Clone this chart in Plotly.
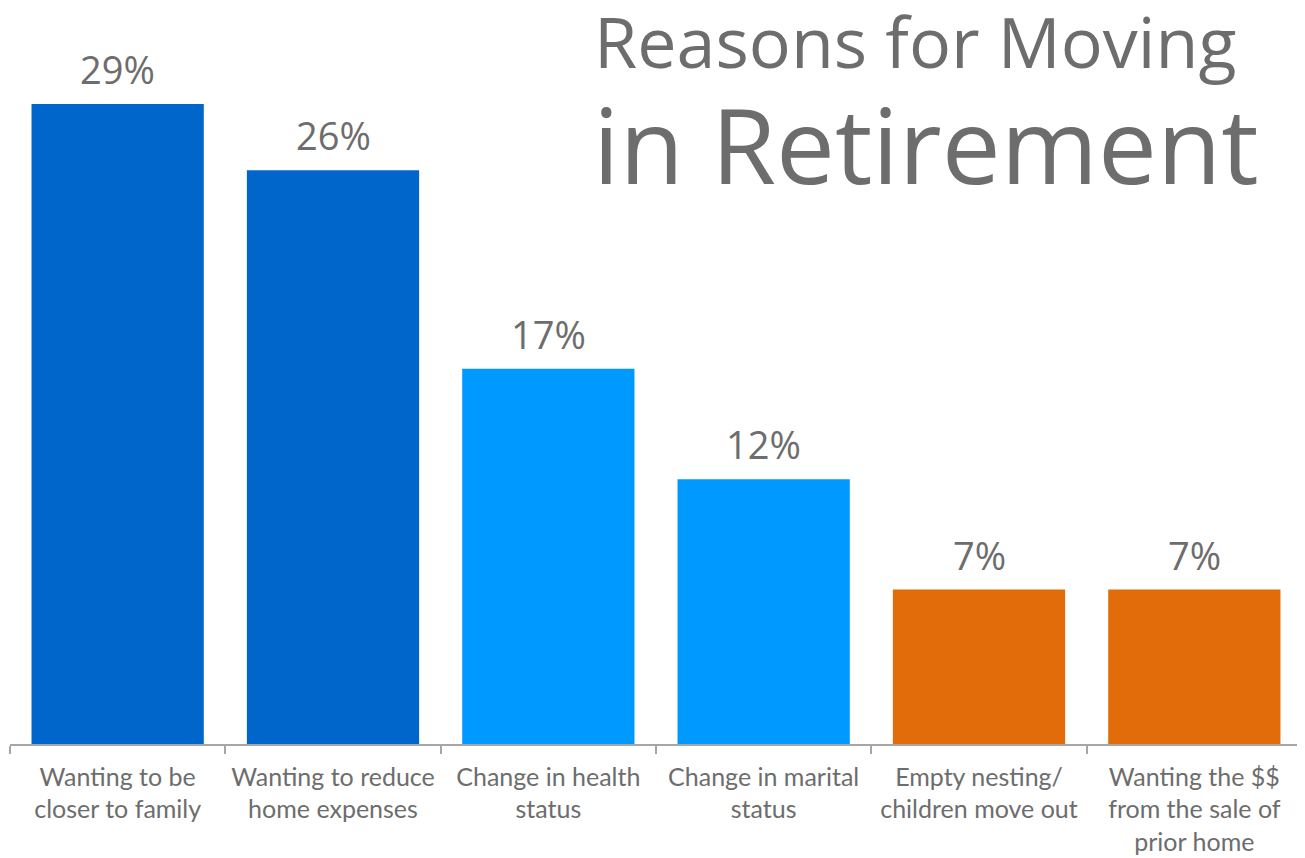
import plotly.graph_objects as go

categories = [
    "Wanting to be<br>closer to family",
    "Wanting to reduce<br>home expenses",
    "Change in health<br>status",
    "Change in marital<br>status",
    "Empty nesting/<br>children move out",
    "Wanting the $$<br>from the sale of<br>prior home",
]
values = [29, 26, 17, 12, 7, 7]
colors = ["#0066CC", "#0066CC", "#0099FF", "#0099FF", "#E36C0A", "#E36C0A"]
labels = [f"{v}%" for v in values]

GRAY = "#6d6d6d"

fig = go.Figure()
fig.add_trace(go.Bar(
    x=categories, y=values,
    marker=dict(color=colors, line=dict(width=0)),
    width=0.8,
    hoverinfo="skip",
))

for c, v, t in zip(categories, values, labels):
    fig.add_annotation(
        x=c, y=v, text=t, showarrow=False, yanchor="bottom",
        yshift=7, font=dict(family="Open Sans", size=38, color=GRAY),
    )

fig.add_annotation(
    xref="paper", yref="paper", x=0.4505, y=1.023, xanchor="left", yanchor="top",
    text="Reasons for Moving", showarrow=False,
    font=dict(family="Open Sans", size=70, color=GRAY),
)
fig.add_annotation(
    xref="paper", yref="paper", x=0.4497, y=0.9158, xanchor="left", yanchor="top",
    text="in Retirement", showarrow=False,
    font=dict(family="Open Sans", size=105, color=GRAY),
)

fig.update_layout(
    width=1297, height=850,
    margin=dict(l=2, r=3, t=0, b=114),
    paper_bgcolor="white", plot_bgcolor="white",
    showlegend=False,
    bargap=0.2,
    xaxis=dict(
        range=[-0.5, 5.5],
        showline=True, linecolor="#a6a6a6", linewidth=1.5,
        ticks="outside", tickson="boundaries", ticklen=8, tickcolor="#a6a6a6", tickwidth=1.5,
        ticklabelstandoff=10,
        tickfont=dict(family="Lato", size=25, color=GRAY),
        showgrid=False, zeroline=False,
    ),
    yaxis=dict(range=[0, 33.35], visible=False, showgrid=False, zeroline=False),
)

fig.write_html("out.html")
